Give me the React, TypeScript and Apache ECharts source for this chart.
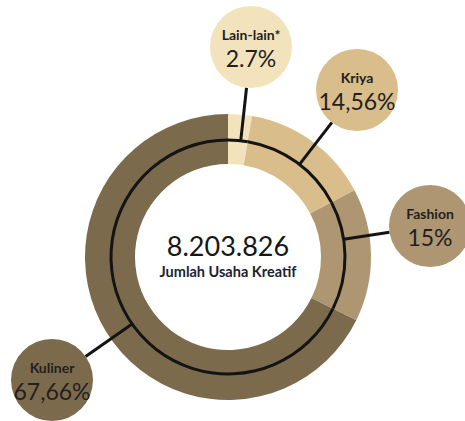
import React, { useEffect, useRef } from "react";
import * as echarts from "echarts";

const categories = ["Lain-lain*", "Kriya", "Fashion", "Kuliner"];
const shares = [2.7, 14.56, 15, 67.66];
const shareLabels = ["2.7%", "14,56%", "15%", "67,66%"];
const totalLabel = "8.203.826";
const totalCaption = "Jumlah Usaha Kreatif";

const COLORS = ["#F3E3BD", "#D9BD8B", "#AD9671", "#7C6A4D"];
const CENTER = [228, 257];
const BUBBLES = [
  [251, 47],
  [357, 90],
  [430, 226],
  [52, 380],
];
const BUBBLE_R = 41;
const RING_R = 117;
const FONT = "Lato, 'Noto Sans', sans-serif";
const INK = "#231f20";

export default function App() {
  const ref = useRef<HTMLDivElement>(null);
  useEffect(() => {
    if (!ref.current) return;
    const chart = echarts.init(ref.current, undefined, { renderer: "svg" });
    const donutData = categories.map((name, i) => ({
      name,
      value: shares[i],
      itemStyle: { color: COLORS[i] },
    }));
    const ringData = categories.map((name, i) => ({
      name,
      value: shares[i],
      label: { backgroundColor: COLORS[i] },
    }));
    chart.setOption({
      animation: false,
      series: [
        {
          type: "pie",
          z: 2,
          center: CENTER,
          radius: [93, 143],
          startAngle: 90,
          clockwise: true,
          silent: true,
          emphasis: { disabled: true },
          label: { show: false },
          labelLine: { show: false },
          itemStyle: { borderWidth: 0 },
          data: donutData,
        },
        {
          type: "pie",
          z: 3,
          center: CENTER,
          radius: [115.5, 118.5],
          startAngle: 90,
          clockwise: true,
          silent: true,
          avoidLabelOverlap: false,
          emphasis: { disabled: true },
          itemStyle: { color: "#141414", borderWidth: 0 },
          label: {
            show: true,
            position: "outside",
            formatter: (p: any) => `{n|${p.name}}\n{v|${shareLabels[p.dataIndex]}}`,
            width: 82,
            padding: [18, 0, 16, 0],
            borderRadius: BUBBLE_R,
            align: "center",
            rich: {
              n: {
                fontFamily: FONT,
                fontSize: 14,
                fontWeight: "bold",
                lineHeight: 20,
                color: INK,
                align: "center",
              },
              v: {
                fontFamily: FONT,
                fontSize: 23,
                fontWeight: "normal",
                lineHeight: 28,
                color: INK,
                align: "center",
              },
            },
          },
          labelLine: {
            show: true,
            length: 5,
            length2: 5,
            lineStyle: { color: "#141414", width: 3 },
          },
          labelLayout: (p: any) => {
            const [bx, by] = BUBBLES[p.dataIndex];
            const dx = bx - CENTER[0];
            const dy = by - CENTER[1];
            const d = Math.hypot(dx, dy);
            const ux = dx / d;
            const uy = dy / d;
            const sx = CENTER[0] + ux * RING_R;
            const sy = CENTER[1] + uy * RING_R;
            const ex = bx - ux * BUBBLE_R;
            const ey = by - uy * BUBBLE_R;
            return {
              x: bx,
              y: by,
              align: "center",
              verticalAlign: "middle",
              labelLinePoints: [
                [sx, sy],
                [ex, ey],
                [ex, ey],
              ],
            };
          },
          data: ringData,
        },
      ],
      graphic: [
        {
          type: "text",
          x: CENTER[0],
          y: 245,
          style: {
            text: totalLabel,
            fontFamily: FONT,
            fontSize: 27,
            fontWeight: "normal",
            fill: "#161616",
            align: "center",
            verticalAlign: "middle",
          },
        },
        {
          type: "text",
          x: CENTER[0],
          y: 271,
          style: {
            text: totalCaption,
            fontFamily: FONT,
            fontSize: 14.5,
            fontWeight: "bold",
            fill: "#1c2130",
            align: "center",
            verticalAlign: "middle",
          },
        },
      ],
    });
    return () => chart.dispose();
  }, []);
  return (
    <div
      ref={ref}
      style={{ position: "fixed", left: 0, top: 0, width: 465, height: 421, background: "#fff" }}
    />
  );
}
